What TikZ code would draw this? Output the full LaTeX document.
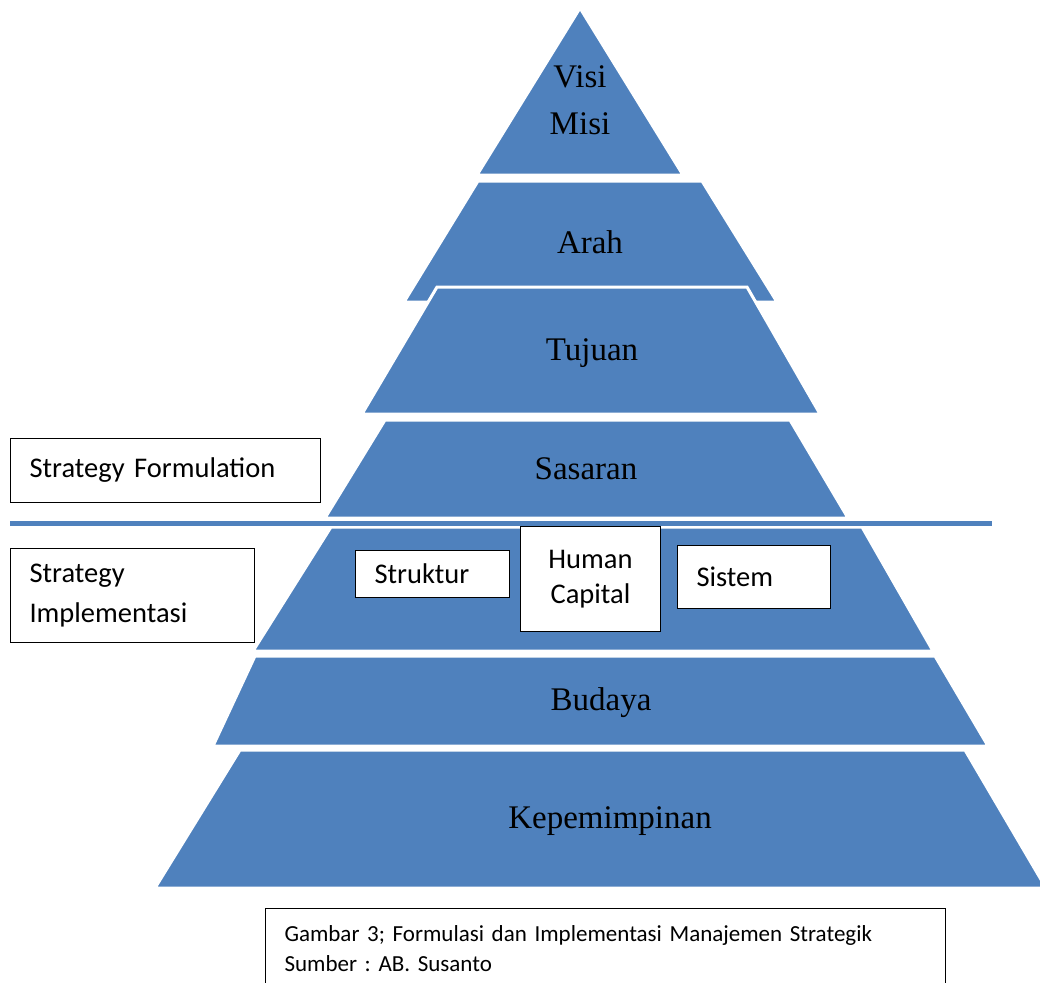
\documentclass[tikz,border=0pt]{standalone}
\usepackage{fontspec}
\setmainfont{Liberation Serif}
\newfontfamily\calibri{Carlito}
\usetikzlibrary{positioning}
\definecolor{tierblue}{RGB}{79,129,189}
\frenchspacing

\begin{document}
\begin{tikzpicture}[
    x=1pt, y=-1pt,
    tier/.style={fill=tierblue, draw=white, line width=3pt, line join=miter},
    tierlabel/.style={font=\fontsize{33}{47}\selectfont, text=black, inner sep=0pt, align=center},
    labelbox/.style={draw=black, fill=white, line width=1pt, anchor=north west, font=\calibri\fontsize{28.5}{40}\selectfont, align=left, inner xsep=19pt, inner ysep=0pt},
    captionbox/.style={draw=black, fill=white, line width=1pt, anchor=north west, font=\calibri\fontsize{23}{30}\selectfont, align=left, inner xsep=19pt, inner ysep=0pt}
]
\useasboundingbox (0,0) rectangle (1040,982);

% Pyramid tiers, drawn top to bottom
\fill[tier] (580,8) -- (683,175) -- (477,175) -- cycle;
\fill[tier] (478,181) -- (702,181) -- (777,302) -- (404,302) -- cycle;
\fill[tier] (437,287) -- (747,287) -- (820,414) -- (362,414) -- cycle;
\fill[tier] (385,420) -- (790,420) -- (848,518) -- (325,518) -- cycle;
\fill[tier] (331,527) -- (862,527) -- (933,651) -- (253,651) -- cycle;
\fill[tier] (255,656) -- (935,656) -- (988,746) -- (213,746) -- cycle;
\fill[tier] (240,750) -- (965,750) -- (1046,888) -- (155,888) -- cycle;

% Divider between formulation and implementation
\coordinate (divleft) at (10,523);
\coordinate (divright) at (992,523);
\draw[tierblue, line width=5pt] (divleft) -- (divright);

% Tier labels
\node[tierlabel] (visi) at (580,100) {Visi\\Misi};
\node[tierlabel] (arah) at (590,242) {Arah};
\node[tierlabel] (tujuan) at (592,353) {Tujuan};
\node[tierlabel] (sasaran) at (586,469) {Sasaran};
\node[tierlabel] (budaya) at (601,703) {Budaya};
\node[tierlabel] (kepemimpinan) at (610,821) {Kepemimpinan};

% Side boxes
\node[labelbox, text width=272pt, minimum height=64pt] (formulation) at (10,438) {Strategy Formulation};
\node[labelbox, text width=206pt, minimum height=94pt] (implementasi) at (10,548) {Strategy\\Implementasi};

% Implementation elements
\node[labelbox, text width=116pt, minimum height=47pt] (struktur) at (355,550) {Struktur};
\node[labelbox, text width=140pt, inner xsep=0pt, align=center, minimum height=105pt,
      font=\calibri\fontsize{28.5}{35}\selectfont] (humancap) at (520,526) {Human\\Capital};
\node[labelbox, text width=115pt, minimum height=63pt] (sistem) at (677,545) {Sistem};

% Caption
\node[captionbox, text width=642pt, minimum height=80pt] (caption) at (265,908) {Gambar 3; Formulasi dan Implementasi Manajemen Strategik\\Sumber : AB. Susanto};

\end{tikzpicture}
\end{document}
